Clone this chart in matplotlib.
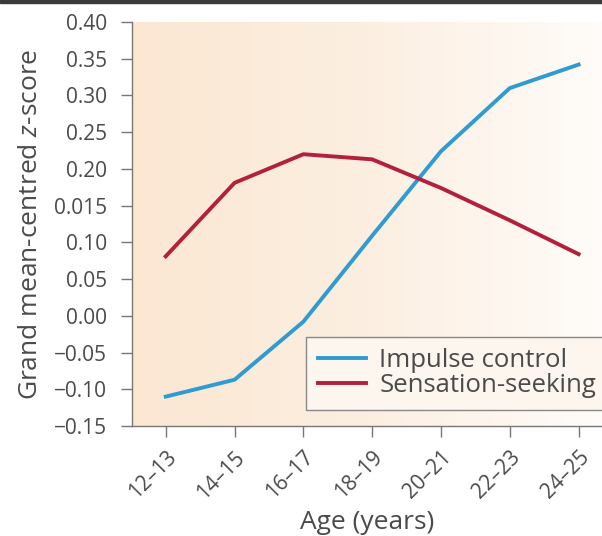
import matplotlib
matplotlib.use("Agg")
import matplotlib.pyplot as plt
import numpy as np
from matplotlib.colors import LinearSegmentedColormap
from matplotlib.patches import Rectangle


AGE_GROUPS = ["12–13", "14–15", "16–17", "18–19", "20–21", "22–23", "24–25"]
IMPULSE_CONTROL = [-0.110, -0.087, -0.008, 0.109, 0.224, 0.310, 0.342]
SENSATION_SEEKING = [0.081, 0.181, 0.220, 0.213, 0.174, 0.130, 0.084]
Y_TICKS = [-0.15, -0.10, -0.05, 0.00, 0.05, 0.10, 0.15, 0.20, 0.25, 0.30, 0.35, 0.40]
Y_TICK_LABELS = ["\u22120.15", "\u22120.10", "\u22120.05", "0.00", "0.05", "0.10",
                 "0.015", "0.20", "0.25", "0.30", "0.35", "0.40"]

plt.rcParams["font.family"] = ["Open Sans", "DejaVu Sans"]
plt.rcParams["mathtext.fontset"] = "custom"
plt.rcParams["mathtext.rm"] = "Open Sans"
plt.rcParams["mathtext.it"] = "Open Sans:italic"

TEXT_COLOR = "#4a4a4a"
BLUE = "#2f9bd1"
RED = "#b3203c"

fig = plt.figure(figsize=(6.02, 5.36), dpi=100)
ax = fig.add_axes([0.2193, 0.2052, 0.7807, 0.7538])

# warm gradient behind the plot
cmap = LinearSegmentedColormap.from_list("warm", ["#fbe7d2", "#fcefe1", "#fffcf9"])
grad = np.linspace(0, 1, 256).reshape(1, -1)
ax.imshow(grad, cmap=cmap, aspect="auto", extent=[0, 1, 0, 1],
          transform=ax.transAxes, zorder=0)

x = np.arange(len(AGE_GROUPS))
ax.plot(x, IMPULSE_CONTROL, color=BLUE, lw=2.8, label="Impulse control", zorder=3)
ax.plot(x, SENSATION_SEEKING, color=RED, lw=2.8, label="Sensation-seeking", zorder=3)

ax.set_xlim(-0.49, 6.34)
ax.set_ylim(-0.15, 0.40)
ax.set_yticks(Y_TICKS)
ax.set_yticklabels(Y_TICK_LABELS)
ax.set_xticks(x)
ax.set_xticklabels(AGE_GROUPS, rotation=45, ha="right", rotation_mode="anchor")

for side in ["top", "right"]:
    ax.spines[side].set_visible(False)
for side in ["left", "bottom"]:
    ax.spines[side].set_color("#777777")
    ax.spines[side].set_linewidth(1.0)
ax.tick_params(axis="both", direction="out", length=8, width=1.0, color="#777777",
               labelsize=15, labelcolor=TEXT_COLOR)
ax.tick_params(axis="y", pad=10)
ax.tick_params(axis="x", pad=7)

ax.set_ylabel("Grand mean-centred $\\it{z}$-score", fontsize=19, color=TEXT_COLOR, labelpad=8)
ax.set_xlabel("Age (years)", fontsize=19, color=TEXT_COLOR, labelpad=5)

leg = ax.legend(loc="lower right", bbox_to_anchor=(1.012, 0.04), borderaxespad=0.0,
                fontsize=18.5, frameon=True, fancybox=False, handlelength=1.9,
                labelspacing=0.0, borderpad=0.45, handletextpad=0.5,
                labelcolor=TEXT_COLOR)
leg.get_frame().set_edgecolor("#888888")
leg.get_frame().set_facecolor("#fdf6ef")
leg.get_frame().set_alpha(1.0)

# dark strip along the top edge of the image
fig.patches.append(Rectangle((0, 0.994), 1, 0.006, transform=fig.transFigure,
                             color="#3a3a3a", zorder=10))

fig.savefig("out.png", dpi=100)
